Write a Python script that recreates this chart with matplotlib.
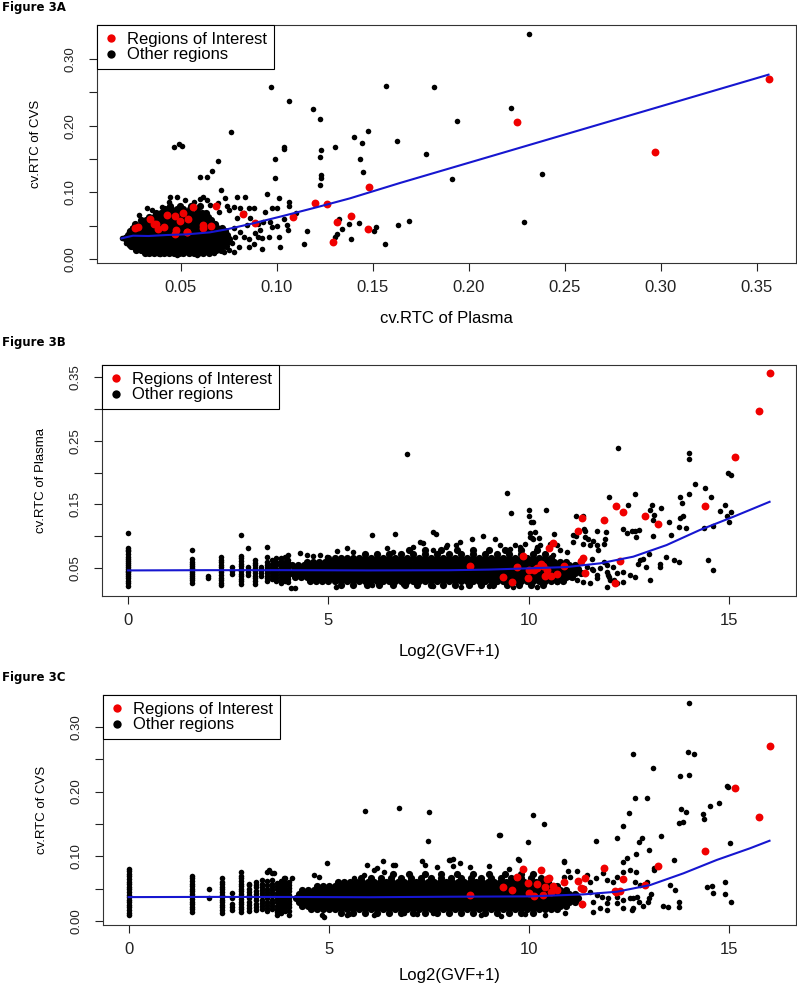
import matplotlib
matplotlib.use("Agg")
import matplotlib.pyplot as plt
from matplotlib.lines import Line2D

plt.rcParams['font.family'] = ['Liberation Sans', 'DejaVu Sans']

ROJO = '#f00000'
AZUL = '#1616d0'

# Regiones de interes: log2(GVF+1), cv.RTC plasma, cv.RTC CVS
roi_gvf = [16.0, 15.74, 15.14, 14.40, 13.22, 12.89, 12.34, 12.17, 11.87, 11.32, 11.23, 10.60,
           10.50, 9.85, 8.53, 9.34, 9.58, 9.69, 9.98, 10.00, 10.12, 10.20, 10.29, 10.45, 10.55,
           10.69, 10.87, 11.30, 11.35, 11.40, 12.27, 10.35, 12.14, 10.40]
roi_plasma = [0.356, 0.297, 0.225, 0.1477, 0.1198, 0.131, 0.1384, 0.1474, 0.126, 0.129, 0.1084,
              0.0886, 0.0821, 0.0682, 0.053, 0.036, 0.0278, 0.0509, 0.0339, 0.0475, 0.0467, 0.0495,
              0.0561, 0.0471, 0.0381, 0.0411, 0.0538, 0.0616, 0.0655, 0.0428, 0.0616, 0.0532,
              0.0262, 0.0372]
roi_cvs = [0.270, 0.160, 0.206, 0.1075, 0.0845, 0.056, 0.0645, 0.0445, 0.0825, 0.026, 0.0625,
           0.0535, 0.067, 0.080, 0.041, 0.052, 0.0485, 0.0685, 0.0595, 0.0435, 0.038, 0.0575,
           0.0785, 0.0645, 0.0445, 0.048, 0.0605, 0.051, 0.050, 0.066, 0.046, 0.0405, 0.046, 0.052]

# ---------------- Figura 3A: cv plasma vs cv CVS ----------------
a_x = [0.0193, 0.0211, 0.0228, 0.0245, 0.028, 0.0323, 0.0349, 0.0401, 0.0436, 0.0445, 0.048,
       0.0523, 0.0566, 0.0601, 0.0615, 0.0636, 0.0653, 0.0691, 0.0731, 0.074, 0.0696, 0.0748,
       0.0791, 0.0834, 0.0774, 0.0809, 0.0852, 0.0878, 0.0826, 0.0861, 0.0791, 0.0843, 0.0774,
       0.0809, 0.0783, 0.0826, 0.0766, 0.08, 0.0748, 0.0722, 0.0774, 0.0852, 0.0878, 0.0852,
       0.0231, 0.0252, 0.0209, 0.0583, 0.067, 0.048, 0.0392,
       0.071, 0.095, 0.1008, 0.106, 0.1065, 0.0973, 0.0999, 0.0938, 0.11, 0.1034, 0.1051, 0.1055,
       0.0999, 0.0973, 0.0926, 0.0964, 0.09, 0.0913, 0.0886, 0.0899, 0.0921, 0.0921, 0.1016,
       0.1013, 0.0956, 0.1155, 0.1141, 0.1339, 0.1321, 0.1375, 0.1426, 0.1313, 0.130, 0.1384,
       0.1517, 0.1505, 0.1564, 0.1632, 0.1687, 0.2289,
       0.0968, 0.1063, 0.1185, 0.1223, 0.076, 0.1474, 0.1401, 0.1445, 0.123, 0.130, 0.1036,
       0.1038, 0.0464, 0.049, 0.0503, 0.099, 0.0694, 0.1223, 0.1431, 0.1448, 0.1228, 0.1228,
       0.0989, 0.0599, 0.0637, 0.066, 0.1226, 0.1625, 0.157, 0.2311, 0.182, 0.222, 0.1938,
       0.1774, 0.1912, 0.238]
a_y = [0.031, 0.0235, 0.041, 0.046, 0.066, 0.076, 0.0735, 0.0785, 0.086, 0.0925, 0.0935,
       0.0885, 0.086, 0.0895, 0.0925, 0.0885, 0.081, 0.0835, 0.091, 0.0795, 0.071, 0.0735,
       0.0935, 0.0935, 0.0785, 0.076, 0.077, 0.076, 0.0685, 0.061, 0.061, 0.051, 0.046,
       0.041, 0.0335, 0.0335, 0.0235, 0.0185, 0.0135, 0.011, 0.011, 0.0185, 0.0225, 0.0295,
       0.021, 0.0185, 0.0325, 0.006, 0.0095, 0.0065, 0.0075,
       0.1035, 0.097, 0.091, 0.086, 0.0795, 0.077, 0.076, 0.071, 0.0695, 0.0595, 0.051, 0.0435,
       0.0495, 0.0485, 0.056, 0.056, 0.052, 0.0435, 0.0385, 0.0335, 0.031, 0.0145, 0.0185,
       0.0335, 0.0325, 0.042, 0.0225, 0.045, 0.060, 0.0525, 0.054, 0.037, 0.033, 0.0305,
       0.048, 0.042, 0.023, 0.051, 0.0575, 0.056,
       0.2585, 0.237, 0.2245, 0.210, 0.190, 0.1925, 0.1835, 0.1735, 0.1635, 0.1675, 0.1685,
       0.1655, 0.1685, 0.1725, 0.170, 0.150, 0.1475, 0.1525, 0.1495, 0.130, 0.126, 0.1215,
       0.122, 0.1235, 0.1235, 0.1325, 0.1105, 0.177, 0.26, 0.337, 0.2585, 0.2265, 0.2065,
       0.158, 0.120, 0.1275]

# nucleo denso de la nube (filas de cv CVS)
a_core_y = [0.0085, 0.014, 0.0195, 0.025, 0.0305, 0.036, 0.0415, 0.047, 0.0525, 0.058,
            0.0635, 0.069, 0.0745, 0.080]
a_core_x = [
    [0.031, 0.0335, 0.036, 0.0388, 0.041, 0.0437, 0.0462, 0.0489, 0.0513, 0.054, 0.0566, 0.0591, 0.0617, 0.0645],
    [0.0268, 0.0293, 0.032, 0.0346, 0.0373, 0.0398, 0.0424, 0.045, 0.0476, 0.0502, 0.0527, 0.0553, 0.058, 0.0606, 0.0631, 0.0657, 0.0684, 0.0708],
    [0.0242, 0.0268, 0.0295, 0.032, 0.0347, 0.0372, 0.0398, 0.0425, 0.045, 0.0477, 0.0503, 0.0528, 0.0554, 0.0581, 0.0606, 0.0632, 0.0659, 0.0685, 0.071, 0.0733],
    [0.0224, 0.025, 0.0276, 0.0302, 0.0328, 0.0355, 0.038, 0.0407, 0.0432, 0.0459, 0.0485, 0.051, 0.0537, 0.0562, 0.0589, 0.0614, 0.064, 0.0667, 0.0692, 0.0718, 0.0742],
    [0.0212, 0.0238, 0.0264, 0.029, 0.0317, 0.0342, 0.0369, 0.0394, 0.042, 0.0447, 0.0472, 0.0498, 0.0525, 0.055, 0.0577, 0.0602, 0.0628, 0.0655, 0.068, 0.0706, 0.0731, 0.0752],
    [0.0222, 0.0249, 0.0275, 0.0301, 0.0327, 0.0353, 0.0379, 0.0406, 0.0431, 0.0457, 0.0484, 0.0509, 0.0535, 0.0562, 0.0587, 0.0613, 0.064, 0.0665, 0.0691, 0.0718, 0.0742],
    [0.0234, 0.026, 0.0287, 0.0312, 0.0338, 0.0365, 0.039, 0.0416, 0.0443, 0.0468, 0.0494, 0.0521, 0.0546, 0.0572, 0.0599, 0.0624, 0.065, 0.0677, 0.0702, 0.0728],
    [0.0248, 0.0274, 0.03, 0.0327, 0.0352, 0.0378, 0.0405, 0.043, 0.0456, 0.0483, 0.0508, 0.0534, 0.0561, 0.0586, 0.0612, 0.0639, 0.0664, 0.069, 0.0714],
    [0.0263, 0.029, 0.0315, 0.0341, 0.0368, 0.0393, 0.0419, 0.0446, 0.0471, 0.0497, 0.0524, 0.0549, 0.0575, 0.0602, 0.0627, 0.0653, 0.0679],
    [0.0292, 0.0318, 0.0344, 0.037, 0.0397, 0.0422, 0.0448, 0.0475, 0.05, 0.0526, 0.0553, 0.0578, 0.0604, 0.0631, 0.0656],
    [0.0331, 0.0357, 0.0384, 0.0409, 0.0435, 0.0462, 0.0487, 0.0513, 0.054, 0.0565, 0.0591, 0.0618, 0.0643],
    [0.0372, 0.0398, 0.0425, 0.045, 0.0476, 0.0503, 0.0528, 0.0554, 0.0581, 0.0607, 0.063],
    [0.0418, 0.0447, 0.0481, 0.0512, 0.0548, 0.0583],
    [0.0442, 0.0497, 0.0553, 0.0601],
]
a_fit_x = [0.019, 0.025, 0.033, 0.0425, 0.053, 0.065, 0.0737, 0.0876, 0.103, 0.1205, 0.138, 0.164, 0.356]
a_fit_y = [0.031, 0.035, 0.0345, 0.036, 0.037, 0.040, 0.0445, 0.0535, 0.0645, 0.0775, 0.091, 0.114, 0.2765]

# ---------------- columnas discretas de GVF bajo ----------------
col_gvf = [0, 1.585, 2.0, 2.32, 2.585, 2.807, 3.0, 3.17, 3.32, 3.46, 3.585, 3.70, 3.81, 3.91, 4.0]

# ---------------- Figura 3B: GVF vs cv plasma ----------------
b_col_y = [
    [0.022, 0.026, 0.030, 0.034, 0.037, 0.040, 0.043, 0.046, 0.049, 0.052, 0.055, 0.058, 0.061, 0.064, 0.068, 0.072, 0.076, 0.079, 0.082, 0.105],
    [0.027, 0.031, 0.035, 0.038, 0.041, 0.044, 0.047, 0.050, 0.053, 0.056, 0.060, 0.064, 0.078],
    [0.034, 0.037],
    [0.023, 0.027, 0.031, 0.035, 0.039, 0.043, 0.047, 0.051, 0.055, 0.059, 0.063, 0.068],
    [0.040, 0.045, 0.052],
    [0.025, 0.029, 0.033, 0.037, 0.041, 0.045, 0.049, 0.053, 0.057, 0.061, 0.065, 0.069, 0.102],
    [0.039, 0.044, 0.048, 0.052, 0.082],
    [0.025, 0.030, 0.034, 0.038, 0.042, 0.046, 0.050, 0.054, 0.058, 0.063],
    [0.037, 0.042, 0.047, 0.052],
    [0.030, 0.034, 0.038, 0.042, 0.046, 0.050, 0.055, 0.060, 0.067, 0.083],
    [0.032, 0.037, 0.042, 0.047, 0.052, 0.057, 0.063],
    [0.029, 0.034, 0.039, 0.044, 0.049, 0.054, 0.059, 0.066],
    [0.027, 0.031, 0.036, 0.041, 0.046, 0.051, 0.056, 0.061, 0.065],
    [0.030, 0.035, 0.040, 0.045, 0.050, 0.055, 0.060, 0.068],
    [0.028, 0.033, 0.038, 0.043, 0.048, 0.053, 0.058, 0.063, 0.070],
]
b_core_y = [0.024, 0.030, 0.036, 0.042, 0.048, 0.054, 0.060, 0.066, 0.072, 0.078]
b_core_x = [
    [5.3, 5.6, 5.95, 6.25, 6.6, 6.9, 7.2, 7.55, 7.85, 8.15, 8.5, 8.8, 9.1, 9.45, 9.75, 10.05, 10.35],
    [4.55, 4.7, 4.85, 5.0, 5.15, 5.3, 5.45, 5.6, 5.75, 5.9, 6.05, 6.2, 6.35, 6.5, 6.65, 6.8, 6.95, 7.1, 7.25, 7.4, 7.55, 7.7, 7.85, 8.0, 8.15, 8.3, 8.45, 8.6, 8.75, 8.9, 9.05, 9.2, 9.35, 9.5, 9.65, 9.8, 9.95, 10.1, 10.25, 10.4, 10.55, 10.7, 10.85],
    [4.17, 4.32, 4.47, 4.62, 4.77, 4.92, 5.07, 5.22, 5.37, 5.52, 5.67, 5.82, 5.97, 6.12, 6.27, 6.42, 6.57, 6.72, 6.87, 7.02, 7.17, 7.32, 7.47, 7.62, 7.77, 7.92, 8.07, 8.22, 8.37, 8.52, 8.67, 8.82, 8.97, 9.12, 9.27, 9.42, 9.57, 9.72, 9.87, 10.02, 10.17, 10.32, 10.47, 10.62, 10.77, 10.92, 11.07],
    [4.1, 4.25, 4.4, 4.55, 4.7, 4.85, 5.0, 5.15, 5.3, 5.45, 5.6, 5.75, 5.9, 6.05, 6.2, 6.35, 6.5, 6.65, 6.8, 6.95, 7.1, 7.25, 7.4, 7.55, 7.7, 7.85, 8.0, 8.15, 8.3, 8.45, 8.6, 8.75, 8.9, 9.05, 9.2, 9.35, 9.5, 9.65, 9.8, 9.95, 10.1, 10.25, 10.4, 10.55, 10.7, 10.85, 11.0, 11.15, 11.3],
    [4.17, 4.32, 4.47, 4.62, 4.77, 4.92, 5.07, 5.22, 5.37, 5.52, 5.67, 5.82, 5.97, 6.12, 6.27, 6.42, 6.57, 6.72, 6.87, 7.02, 7.17, 7.32, 7.47, 7.62, 7.77, 7.92, 8.07, 8.22, 8.37, 8.52, 8.67, 8.82, 8.97, 9.12, 9.27, 9.42, 9.57, 9.72, 9.87, 10.02, 10.17, 10.32, 10.47, 10.62, 10.77, 10.92, 11.07, 11.22],
    [4.1, 4.25, 4.4, 4.55, 4.7, 4.85, 5.0, 5.15, 5.3, 5.45, 5.6, 5.75, 5.9, 6.05, 6.2, 6.35, 6.5, 6.65, 6.8, 6.95, 7.1, 7.25, 7.4, 7.55, 7.7, 7.85, 8.0, 8.15, 8.3, 8.45, 8.6, 8.75, 8.9, 9.05, 9.2, 9.35, 9.5, 9.65, 9.8, 9.95, 10.1, 10.25, 10.4, 10.55, 10.7, 10.85, 11.0, 11.15],
    [4.47, 4.62, 4.77, 4.92, 5.07, 5.22, 5.37, 5.52, 5.67, 5.82, 5.97, 6.12, 6.27, 6.42, 6.57, 6.72, 6.87, 7.02, 7.17, 7.32, 7.47, 7.62, 7.77, 7.92, 8.07, 8.22, 8.37, 8.52, 8.67, 8.82, 8.97, 9.12, 9.27, 9.42, 9.57, 9.72, 9.87, 10.02, 10.17, 10.32, 10.47, 10.62, 10.77, 10.92],
    [5.0, 5.15, 5.3, 5.45, 5.6, 5.75, 5.9, 6.05, 6.2, 6.35, 6.5, 6.65, 6.8, 6.95, 7.1, 7.25, 7.4, 7.55, 7.7, 7.85, 8.0, 8.15, 8.3, 8.45, 8.6, 8.75, 8.9, 9.05, 9.2, 9.35, 9.5, 9.65, 9.8, 9.95, 10.1, 10.25, 10.4, 10.55],
    [5.9, 6.2, 6.5, 6.8, 7.1, 7.4, 7.7, 8.0, 8.3, 8.6, 8.9, 9.2, 9.5, 9.8, 10.1, 10.4],
    [7.0, 7.4, 7.8, 8.2, 8.6, 9.0, 9.4, 9.8, 10.2],
]
b_x = [6.08, 6.66, 7.69, 6.95, 5.2, 5.45, 5.62, 6.45, 6.61, 7.11, 7.36, 7.61, 7.94, 8.19, 4.29,
       4.46, 4.62, 4.79, 4.96, 4.06, 4.16, 5.18, 6.08, 6.86, 7.61, 8.3, 9.0, 9.6, 10.2, 7.61,
       7.95, 7.28, 8.28, 8.57, 8.86, 9.15, 9.28, 9.53, 9.65, 9.78, 10.2, 10.28, 10.02, 10.11,
       9.9, 9.44, 9.54, 9.99, 9.99, 10.04, 10.11, 10.42, 10.15, 10.03, 10.07, 10.26, 10.62,
       10.52, 10.71, 10.77, 10.94, 10.61, 11.09, 11.17, 11.4, 11.39, 11.52, 11.6, 11.9, 11.69,
       11.91, 12.0, 12.21, 11.1, 11.35, 11.37, 11.34, 11.17, 11.48, 11.69, 11.86, 11.73, 11.56,
       11.86, 11.94, 11.56, 11.69, 11.98, 12.11, 12.0,
       12.65, 12.48, 13.08, 13.02, 13.12, 13.1, 13.29, 13.49, 13.76, 13.99, 13.82, 13.76, 13.83,
       13.92, 14.14, 14.39, 14.53, 14.76, 14.9, 14.93, 15.0, 15.05, 14.37, 14.6, 14.46, 14.6,
       13.27, 13.42, 13.62, 13.75, 13.1, 13.53, 13.75, 13.0, 12.85, 12.78, 12.72, 12.58, 12.64,
       12.34, 12.45, 12.74, 12.66, 14.0, 14.0, 14.96, 15.04,
       10.77, 10.94, 11.19, 11.44, 11.6, 11.77, 11.94, 12.1, 12.19, 12.35, 12.52, 12.64, 12.02,
       12.19, 11.69, 11.52, 11.35, 11.19, 11.02, 11.94, 12.35, 11.02, 11.27, 10.86, 10.69,
       13.02, 12.92, 13.27]
b_y = [0.1018, 0.1041, 0.1041, 0.2285, 0.0772, 0.0809, 0.0757, 0.0809, 0.0757, 0.0835, 0.0888,
       0.0783, 0.0835, 0.0862, 0.073, 0.0704, 0.0688, 0.0704, 0.0678, 0.0181, 0.018, 0.0207,
       0.0233, 0.0249, 0.0217, 0.0195, 0.021, 0.02, 0.0205, 0.1066, 0.0856, 0.0908, 0.0908,
       0.096, 0.101, 0.096, 0.0856, 0.08, 0.0856, 0.0829, 0.0829, 0.0865, 0.0987, 0.096,
       0.087, 0.168, 0.1369, 0.141, 0.1321, 0.1227, 0.1227, 0.1419, 0.1065, 0.1048, 0.0969,
       0.0969, 0.1027, 0.087, 0.0865, 0.0777, 0.0752, 0.0699, 0.1011, 0.0995, 0.1089, 0.0985,
       0.0864, 0.0922, 0.0958, 0.1079, 0.1063, 0.162, 0.2379, 0.0908, 0.0882, 0.1115, 0.1324,
       0.1324, 0.096, 0.0856, 0.0882, 0.0777, 0.0647, 0.0594, 0.0542, 0.049, 0.0385, 0.0385,
       0.0307, 0.036,
       0.166, 0.1493, 0.1493, 0.1416, 0.1338, 0.1255, 0.1437, 0.1223, 0.1615, 0.1657, 0.1526,
       0.1291, 0.1312, 0.1134, 0.1814, 0.1762, 0.162, 0.1395, 0.1489, 0.1317, 0.1217, 0.1384,
       0.1129, 0.1155, 0.0632, 0.0464, 0.0569, 0.0674, 0.0621, 0.0595, 0.0995, 0.1016, 0.1147,
       0.0726, 0.0648, 0.0621, 0.0569, 0.1079, 0.1079, 0.1105, 0.1053, 0.1095, 0.0991, 0.2303,
       0.2214, 0.1988, 0.1962,
       0.0573, 0.0521, 0.0547, 0.0521, 0.0469, 0.0495, 0.0443, 0.0521, 0.0417, 0.0443, 0.0391,
       0.0365, 0.0313, 0.026, 0.0339, 0.026, 0.0287, 0.0313, 0.0365, 0.0208, 0.0287, 0.0443,
       0.0417, 0.0313, 0.0287, 0.0313, 0.0521, 0.0521]
b_fit_x = [0, 2, 4, 6, 8, 9, 10, 10.94, 11.77, 12.6, 13.43, 14.26, 15.1, 16.0]
b_fit_y = [0.0462, 0.0466, 0.0466, 0.0462, 0.0465, 0.0475, 0.0495, 0.0515, 0.0573, 0.0678, 0.086, 0.1097, 0.1306, 0.154]

# ---------------- Figura 3C: GVF vs cv CVS ----------------
c_col_y = [
    [0.009, 0.013, 0.017, 0.021, 0.025, 0.029, 0.033, 0.037, 0.041, 0.045, 0.049, 0.053, 0.057, 0.061, 0.065, 0.069, 0.073, 0.077, 0.081],
    [0.014, 0.018, 0.022, 0.026, 0.030, 0.034, 0.038, 0.042, 0.046, 0.050, 0.054, 0.058, 0.062, 0.066, 0.069],
    [0.035, 0.049],
    [0.013, 0.017, 0.021, 0.025, 0.029, 0.033, 0.037, 0.041, 0.045, 0.049, 0.053, 0.057, 0.061, 0.067],
    [0.017, 0.022, 0.027, 0.036, 0.043],
    [0.014, 0.018, 0.022, 0.026, 0.030, 0.034, 0.038, 0.042, 0.046, 0.050, 0.054, 0.058, 0.062, 0.066, 0.070, 0.076],
    [0.015, 0.020, 0.025, 0.030, 0.035, 0.040, 0.045, 0.050, 0.055, 0.058],
    [0.017, 0.022, 0.027, 0.032, 0.037, 0.042, 0.047, 0.052, 0.056, 0.060],
    [0.019, 0.023, 0.028, 0.033, 0.038, 0.043, 0.048, 0.053, 0.058, 0.064],
    [0.015, 0.020, 0.025, 0.030, 0.035, 0.040, 0.045, 0.050, 0.056, 0.062, 0.076],
    [0.018, 0.023, 0.028, 0.033, 0.038, 0.043, 0.048, 0.053, 0.058, 0.063, 0.074],
    [0.009, 0.014, 0.019, 0.024, 0.029, 0.034, 0.039, 0.044, 0.049, 0.054, 0.059],
    [0.012, 0.017, 0.022, 0.027, 0.032, 0.037, 0.042, 0.047, 0.052, 0.057, 0.062],
    [0.015, 0.020, 0.025, 0.030, 0.035, 0.040, 0.045, 0.050, 0.055, 0.060, 0.066],
    [0.010, 0.016, 0.021, 0.026, 0.031, 0.036, 0.041, 0.046, 0.051, 0.056, 0.061],
]
c_core_y = [0.012, 0.018, 0.024, 0.030, 0.036, 0.042, 0.048, 0.054, 0.060, 0.066, 0.072]
c_core_x = [
    [5.3, 5.6, 5.9, 6.2, 6.5, 6.8, 7.1, 7.4, 7.7, 8.0, 8.3, 8.6, 8.9, 9.2, 9.5, 9.8, 10.1],
    [4.55, 4.7, 4.85, 5.0, 5.15, 5.3, 5.45, 5.6, 5.75, 5.9, 6.05, 6.2, 6.35, 6.5, 6.65, 6.8, 6.95, 7.1, 7.25, 7.4, 7.55, 7.7, 7.85, 8.0, 8.15, 8.3, 8.45, 8.6, 8.75, 8.9, 9.05, 9.2, 9.35, 9.5, 9.65, 9.8, 9.95, 10.1, 10.25, 10.4, 10.55, 10.7],
    [4.32, 4.47, 4.62, 4.77, 4.92, 5.07, 5.22, 5.37, 5.52, 5.67, 5.82, 5.97, 6.12, 6.27, 6.42, 6.57, 6.72, 6.87, 7.02, 7.17, 7.32, 7.47, 7.62, 7.77, 7.92, 8.07, 8.22, 8.37, 8.52, 8.67, 8.82, 8.97, 9.12, 9.27, 9.42, 9.57, 9.72, 9.87, 10.02, 10.17, 10.32, 10.47, 10.62, 10.77, 10.92],
    [4.25, 4.4, 4.55, 4.7, 4.85, 5.0, 5.15, 5.3, 5.45, 5.6, 5.75, 5.9, 6.05, 6.2, 6.35, 6.5, 6.65, 6.8, 6.95, 7.1, 7.25, 7.4, 7.55, 7.7, 7.85, 8.0, 8.15, 8.3, 8.45, 8.6, 8.75, 8.9, 9.05, 9.2, 9.35, 9.5, 9.65, 9.8, 9.95, 10.1, 10.25, 10.4, 10.55, 10.7, 10.85, 11.0, 11.15],
    [4.17, 4.32, 4.47, 4.62, 4.77, 4.92, 5.07, 5.22, 5.37, 5.52, 5.67, 5.82, 5.97, 6.12, 6.27, 6.42, 6.57, 6.72, 6.87, 7.02, 7.17, 7.32, 7.47, 7.62, 7.77, 7.92, 8.07, 8.22, 8.37, 8.52, 8.67, 8.82, 8.97, 9.12, 9.27, 9.42, 9.57, 9.72, 9.87, 10.02, 10.17, 10.32, 10.47, 10.62, 10.77, 10.92, 11.07, 11.22],
    [4.25, 4.4, 4.55, 4.7, 4.85, 5.0, 5.15, 5.3, 5.45, 5.6, 5.75, 5.9, 6.05, 6.2, 6.35, 6.5, 6.65, 6.8, 6.95, 7.1, 7.25, 7.4, 7.55, 7.7, 7.85, 8.0, 8.15, 8.3, 8.45, 8.6, 8.75, 8.9, 9.05, 9.2, 9.35, 9.5, 9.65, 9.8, 9.95, 10.1, 10.25, 10.4, 10.55, 10.7, 10.85, 11.0, 11.15],
    [4.32, 4.47, 4.62, 4.77, 4.92, 5.07, 5.22, 5.37, 5.52, 5.67, 5.82, 5.97, 6.12, 6.27, 6.42, 6.57, 6.72, 6.87, 7.02, 7.17, 7.32, 7.47, 7.62, 7.77, 7.92, 8.07, 8.22, 8.37, 8.52, 8.67, 8.82, 8.97, 9.12, 9.27, 9.42, 9.57, 9.72, 9.87, 10.02, 10.17, 10.32, 10.47, 10.62, 10.77, 10.92],
    [4.7, 4.85, 5.0, 5.15, 5.3, 5.45, 5.6, 5.75, 5.9, 6.05, 6.2, 6.35, 6.5, 6.65, 6.8, 6.95, 7.1, 7.25, 7.4, 7.55, 7.7, 7.85, 8.0, 8.15, 8.3, 8.45, 8.6, 8.75, 8.9, 9.05, 9.2, 9.35, 9.5, 9.65, 9.8, 9.95, 10.1, 10.25, 10.4, 10.55, 10.7],
    [5.22, 5.37, 5.52, 5.67, 5.82, 5.97, 6.12, 6.27, 6.42, 6.57, 6.72, 6.87, 7.02, 7.17, 7.32, 7.47, 7.62, 7.77, 7.92, 8.07, 8.22, 8.37, 8.52, 8.67, 8.82, 8.97, 9.12, 9.27, 9.42, 9.57, 9.72, 9.87, 10.02, 10.17, 10.32, 10.47],
    [5.8, 6.05, 6.3, 6.55, 6.8, 7.05, 7.3, 7.55, 7.8, 8.05, 8.3, 8.55, 8.8, 9.05, 9.3, 9.55, 9.8, 10.05, 10.3],
    [6.6, 7.0, 7.4, 7.8, 8.2, 8.6, 9.0, 9.4, 9.8, 10.1],
]
c_x = [5.91, 6.74, 4.95, 4.62, 4.75, 5.95, 6.2, 6.36, 6.61, 5.62, 5.87, 6.12, 3.5, 3.62, 3.87,
       3.96, 4.08, 4.87, 5.45, 4.83, 5.49, 6.12, 6.87, 7.2, 7.61, 7.32, 7.41, 7.7, 7.99, 8.11,
       6.66, 6.37, 7.51, 7.47, 9.25, 9.98, 10.09, 10.38, 8.03, 8.53, 9.74, 10.86, 8.28, 8.1,
       9.0, 9.5, 8.8, 9.3, 9.9, 10.4,
       14.0, 13.97, 14.12, 12.58, 13.08, 13.77, 13.98, 14.93, 14.97, 12.64, 12.93, 12.48, 12.34,
       13.79, 13.91, 13.73, 13.85, 14.51, 14.75, 14.35, 14.37, 15.01, 13.29, 12.81, 12.73,
       12.99, 12.67, 12.43, 12.34, 12.2, 11.67, 13.61, 13.12, 13.12, 12.66, 13.52, 13.64,
       13.35, 13.47, 13.75, 13.75, 14.43, 14.57, 14.59, 14.89, 14.89, 15.04, 13.05, 12.98,
       12.96, 12.85, 12.75, 12.58, 12.58,
       10.96, 11.19, 10.88, 11.02, 11.44, 11.66, 11.85, 11.94, 12.1, 12.19, 12.35, 12.52, 12.64,
       12.77, 12.93, 11.69, 11.81, 11.98, 12.19, 12.35, 12.52, 12.68, 11.77, 11.94, 11.6,
       12.19, 12.35, 12.56, 11.94, 11.36, 11.52, 11.19, 11.02, 10.9, 11.52, 11.31, 11.6, 10.88,
       9.73, 9.26]
c_y = [0.170, 0.174, 0.0902, 0.071, 0.0685, 0.0871, 0.082, 0.0923, 0.0871, 0.0659, 0.071,
       0.0788, 0.0788, 0.0747, 0.0659, 0.0582, 0.0659, 0.0067, 0.0093, 0.0092, 0.0103, 0.0092,
       0.0118, 0.0103, 0.0118, 0.0933, 0.0866, 0.084, 0.0943, 0.085, 0.0866, 0.0762, 0.168,
       0.1241, 0.1325, 0.1222, 0.1638, 0.1494, 0.0943, 0.0832, 0.0943, 0.0917, 0.089, 0.0954,
       0.085, 0.08, 0.01, 0.008, 0.011, 0.009,
       0.3364, 0.2605, 0.2579, 0.2579, 0.2369, 0.2242, 0.2262, 0.2092, 0.2076, 0.1906, 0.1896,
       0.1674, 0.1474, 0.1731, 0.169, 0.1509, 0.1525, 0.1782, 0.1829, 0.1659, 0.1576, 0.12,
       0.1308, 0.1277, 0.1216, 0.1098, 0.1031, 0.098, 0.0918, 0.1277, 0.124, 0.0948, 0.0814,
       0.0788, 0.076, 0.0556, 0.0479, 0.0232, 0.0222, 0.0289, 0.0222, 0.0521, 0.0541, 0.0428,
       0.0598, 0.0417, 0.0299, 0.0412, 0.036, 0.0289, 0.0237, 0.03, 0.0196, 0.036,
       0.0778, 0.0773, 0.0685, 0.0685, 0.0711, 0.067, 0.0737, 0.0634, 0.0608, 0.0685, 0.0762,
       0.0788, 0.0608, 0.0556, 0.0608, 0.0402, 0.0376, 0.035, 0.0376, 0.0324, 0.035, 0.0376,
       0.0201, 0.0175, 0.0139, 0.0273, 0.0196, 0.017, 0.0273, 0.0505, 0.0453, 0.0402, 0.0299,
       0.0118, 0.0608, 0.0247, 0.0299, 0.0928, 0.0954, 0.1329]
c_fit_x = [0, 2, 4, 6, 8.03, 10.02, 11.35, 12.19, 13.02, 13.85, 14.68, 15.51, 16.0]
c_fit_y = [0.0370, 0.0373, 0.0372, 0.0368, 0.0376, 0.0381, 0.0412, 0.0453, 0.0556, 0.0737, 0.0943, 0.1123, 0.124]


def filas(ys, xs_por_fila):
    xs, yy = [], []
    for yv, fila in zip(ys, xs_por_fila):
        xs += fila
        yy += [yv] * len(fila)
    return xs, yy


def columnas(xs, ys_por_col):
    xx, ys = [], []
    for xv, col in zip(xs, ys_por_col):
        xx += [xv] * len(col)
        ys += col
    return xx, ys


def panel(ax, denso, sueltos, rojos, fit):
    # la nube densa se dibuja con puntos algo mayores para que quede maciza
    ax.scatter(denso[0], denso[1], s=27, c='black', linewidths=0, zorder=2)
    ax.scatter(sueltos[0], sueltos[1], s=16, c='black', linewidths=0, zorder=2)
    ax.scatter(rojos[0], rojos[1], s=32, c=ROJO, linewidths=0, zorder=3)
    ax.plot(fit[0], fit[1], color=AZUL, lw=1.5, zorder=4)


def estilo(ax, xlim, ylim, xt, xtl, yt, ytl, xlabel, ylabel, xpad=12):
    ax.set_xlim(xlim)
    ax.set_ylim(ylim)
    ax.set_xticks(xt, xtl, fontsize=12)
    ax.set_yticks(yt, ytl, fontsize=9.5, rotation=90, va='center')
    ax.tick_params(direction='out', length=6, width=0.8, colors='#222222')
    ax.tick_params(axis='x', pad=6)
    ax.tick_params(axis='y', pad=9)
    ax.set_xlabel(xlabel, fontsize=12, labelpad=xpad)
    ax.set_ylabel(ylabel, fontsize=9.5, labelpad=16)
    for sp in ax.spines.values():
        sp.set_linewidth(0.8)
        sp.set_color('#333333')
    handles = [Line2D([], [], ls='none', marker='o', ms=6, color=ROJO, mec='none'),
               Line2D([], [], ls='none', marker='o', ms=6, color='black', mec='none')]
    leg = ax.legend(handles, ['Regions of Interest', 'Other regions'], loc='upper left',
                    borderaxespad=0, fancybox=False, edgecolor='black', framealpha=1,
                    fontsize=12, handlelength=0.85, handletextpad=0.55, borderpad=0.4,
                    labelspacing=0.05)
    leg.get_frame().set_linewidth(0.8)


fig = plt.figure(figsize=(7.97, 9.84), dpi=100)

# A
ax_a = fig.add_axes([0.1217, 0.7327, 0.8770, 0.2419])
panel(ax_a, filas(a_core_y, a_core_x), (a_x, a_y), (roi_plasma, roi_cvs), (a_fit_x, a_fit_y))
estilo(ax_a, (0.00625, 0.3703), (-0.006, 0.351),
       [0.05, 0.10, 0.15, 0.20, 0.25, 0.30, 0.35],
       ['0.05', '0.10', '0.15', '0.20', '0.25', '0.30', '0.35'],
       [0.0, 0.05, 0.10, 0.15, 0.20, 0.25, 0.30],
       ['0.00', '', '0.10', '', '0.20', '', '0.30'],
       'cv.RTC of Plasma', 'cv.RTC of CVS')

gvf_ticks = [0, 5, 10, 15]
gvf_labels = ['0', '5', '10', '15']

# B
ax_b = fig.add_axes([0.1284, 0.3943, 0.8704, 0.2348])
kx, ky = columnas(col_gvf, b_col_y)
cx, cy = filas(b_core_y, b_core_x)
panel(ax_b, (cx, cy), (kx + b_x, ky + b_y), (roi_gvf, roi_plasma), (b_fit_x, b_fit_y))
estilo(ax_b, (-0.64, 16.66), (0.006, 0.369), gvf_ticks, gvf_labels,
       [0.05, 0.10, 0.15, 0.20, 0.25, 0.30, 0.35],
       ['0.05', '', '0.15', '', '0.25', '', '0.35'],
       'Log2(GVF+1)', 'cv.RTC of Plasma')

# C
ax_c = fig.add_axes([0.1292, 0.0600, 0.8695, 0.2337])
kx, ky = columnas(col_gvf, c_col_y)
cx, cy = filas(c_core_y, c_core_x)
panel(ax_c, (cx, cy), (kx + c_x, ky + c_y), (roi_gvf, roi_cvs), (c_fit_x, c_fit_y))
estilo(ax_c, (-0.64, 16.66), (-0.006, 0.349), gvf_ticks, gvf_labels,
       [0.0, 0.05, 0.10, 0.15, 0.20, 0.25, 0.30],
       ['0.00', '', '0.10', '', '0.20', '', '0.30'],
       'Log2(GVF+1)', 'cv.RTC of CVS', xpad=8)

for etiqueta, ypix in [('Figure 3A', 7.5), ('Figure 3B', 342.5), ('Figure 3C', 677)]:
    fig.text(0.003, 1 - ypix / 984, etiqueta, fontsize=8.5, fontweight='bold',
             family='DejaVu Sans', ha='left', va='center')

fig.savefig('out.png', dpi=100)
